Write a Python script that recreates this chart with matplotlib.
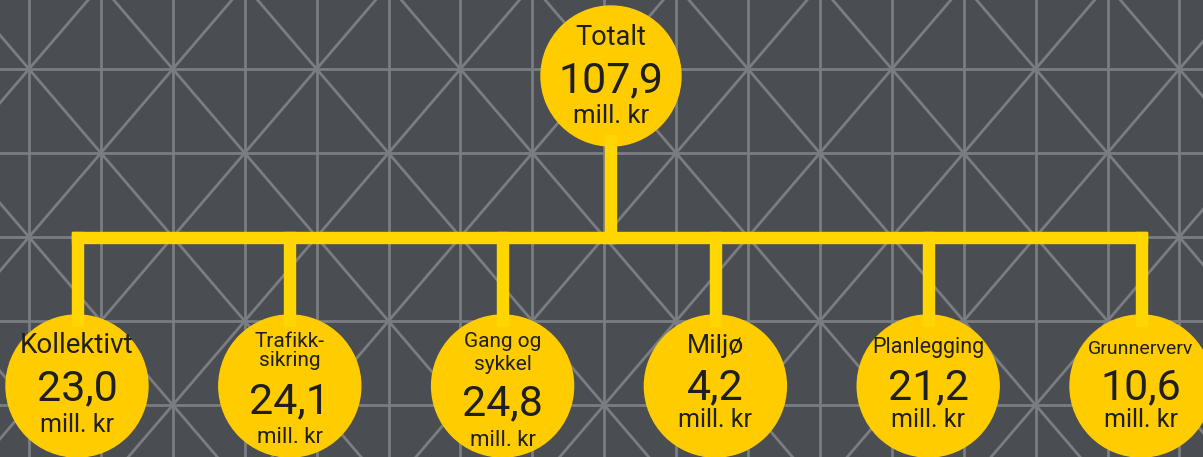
import numpy as np
import matplotlib
matplotlib.use("Agg")
import matplotlib.pyplot as plt
from matplotlib.patches import Circle, Rectangle

# data
total_label = "Totalt"
total_value = 107.9
categories = ["Kollektivt", "Trafikk-\nsikring", "Gang og\nsykkel", "Miljø", "Planlegging", "Grunnerverv"]
values = [23.0, 24.1, 24.8, 4.2, 21.2, 10.6]
unit = "mill. kr"

# layout (pixel coords, y pointing down)
W, H = 1203, 457
bg = "#4a4e53"
gridc = "#7a7d82"
circ_yellow = "#ffcc00"
line_yellow = "#ffd600"
txt = "#1f1f1f"
font = "Roboto"
weight = "normal"

branch_x = np.linspace(77, 1141, len(categories))
label_base = [[353], [347, 366], [347, 370], [353], [353], [354]]
label_size = [20, 15, 15, 19, 15.5, 14]
value_base = [400, 413, 415, 399, 399, 399]
unit_base = [432, 443, 446, 427, 427, 427]
unit_size = [18, 16, 16, 18, 18, 18]


def fmt(v):
    return "{0:.1f}".format(v).replace(".", ",")


fig = plt.figure(figsize=(W / 100, H / 100), dpi=100)
fig.patch.set_facecolor(bg)
ax = fig.add_axes([0, 0, 1, 1])
ax.set_xlim(0, W)
ax.set_ylim(H, 0)
ax.set_facecolor(bg)
ax.axis("off")

# background grid
dx, dy = 71.9, 84.0
for k in range(-1, 18):
    ax.plot([29 + dx * k] * 2, [-10, H + 10], color=gridc, lw=2.0, zorder=1)
for k in range(-1, 6):
    ax.plot([-10, W + 10], [69 + dy * k] * 2, color=gridc, lw=2.0, zorder=1)
slope = dy / dx
ys = np.array([-60, H + 60])
for m in range(-6, 14):
    x0 = 29 + 2 * dx * m
    ax.plot(x0 + (ys - 69) / slope, ys, color=gridc, lw=2.0, zorder=1)
    ax.plot(x0 - (ys - 69) / slope, ys, color=gridc, lw=2.0, zorder=1)

# connectors
lw = 11
ax.add_patch(Rectangle((610.5 - lw / 2, 135), lw, 242.5 - 135, color=line_yellow, zorder=4))
ax.add_patch(Rectangle((branch_x[0] - lw / 2, 232), branch_x[-1] - branch_x[0] + lw, 10.5,
                       color=line_yellow, zorder=4))
for bx in branch_x:
    ax.add_patch(Rectangle((bx - lw / 2, 232), lw, 326 - 232, color=line_yellow, zorder=4))

# top circle
ax.add_patch(Circle((611, 76), 70, color=circ_yellow, zorder=3))
ax.text(611, 45, total_label, ha="center", va="baseline", fontsize=19.5, color=txt,
        family=font, fontweight=weight, zorder=5)
ax.text(611, 92, fmt(total_value), ha="center", va="baseline", fontsize=31, color=txt,
        family=font, fontweight=weight, zorder=5)
ax.text(611, 123, unit, ha="center", va="baseline", fontsize=18.5, color=txt,
        family=font, fontweight=weight, zorder=5)

# category circles
for i, (cat, val) in enumerate(zip(categories, values)):
    cx = branch_x[i]
    ax.add_patch(Circle((cx, 386), 71, color=circ_yellow, zorder=3))
    for line, yb in zip(cat.split("\n"), label_base[i]):
        ax.text(cx, yb, line, ha="center", va="baseline", fontsize=label_size[i], color=txt,
                family=font, fontweight=weight, zorder=5)
    ax.text(cx, value_base[i], fmt(val), ha="center", va="baseline", fontsize=31, color=txt,
            family=font, fontweight=weight, zorder=5)
    ax.text(cx, unit_base[i], unit, ha="center", va="baseline", fontsize=unit_size[i], color=txt,
            family=font, fontweight=weight, zorder=5)

fig.savefig("out.png", dpi=100, facecolor=bg)
